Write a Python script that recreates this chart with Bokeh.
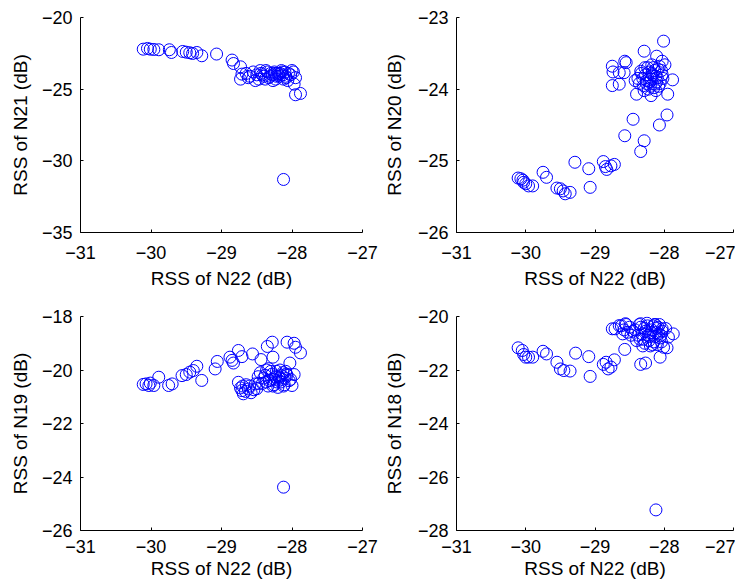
from bokeh.plotting import figure
from bokeh.layouts import column, row
from bokeh.models import FixedTicker, Range1d
from bokeh.embed import file_html
from bokeh.resources import INLINE

# ---------------- data ----------------
x_ticks = [-31, -30, -29, -28, -27]

# Panel 1: N22 vs N21
x_p1 = [-30.11, -30.05, -30.01, -29.96, -29.89, -29.74, -29.71, -29.55, -29.50, -29.45,
        -29.41, -29.35, -29.28, -29.07, -28.85, -28.83, -28.73, -28.71, -28.73, -27.95,
        -27.88, -27.97, -28.12,
        -28.65, -28.60, -28.55, -28.50, -28.47, -28.44, -28.40, -28.37, -28.33, -28.30,
        -28.28, -28.25, -28.23, -28.20, -28.18, -28.15, -28.13, -28.10, -28.08, -28.05,
        -28.02, -27.98, -27.95, -28.62, -28.52, -28.42, -28.35, -28.27, -28.22, -28.17,
        -28.12, -28.06, -28.00, -28.45, -28.38, -28.31, -28.24, -28.19, -28.14, -28.09]
y_p1 = [-22.21, -22.16, -22.21, -22.23, -22.25, -22.25, -22.44, -22.37, -22.42, -22.46,
        -22.51, -22.44, -22.67, -22.55, -22.97, -23.21, -23.44, -23.95, -24.30, -25.39,
        -25.30, -24.65, -31.30,
        -23.90, -24.10, -23.80, -24.00, -24.30, -23.90, -24.10, -23.70, -24.20, -23.90,
        -24.00, -23.80, -24.30, -23.90, -24.10, -23.70, -24.00, -23.80, -24.20, -23.90,
        -24.00, -23.80, -24.20, -24.20, -24.40, -24.00, -23.80, -24.40, -24.10, -23.90,
        -24.30, -24.40, -23.70, -23.70, -24.30, -24.10, -23.90, -24.00, -23.80, -24.10]

# Panel 2: N22 vs N20
x_p2 = [-30.11, -30.07, -30.04, -30.03, -30.00, -29.96, -29.90, -29.75, -29.70, -29.55,
        -29.50, -29.46, -29.43, -29.36, -29.29, -29.09, -29.07, -28.88, -28.85, -28.83,
        -28.77, -28.72, -28.57, -28.45, -28.34, -28.29, -28.07, -27.96,
        -28.75, -28.74, -28.75, -28.65, -28.57, -28.55, -28.58, -28.65, -28.29, -28.11,
        -28.01, -28.03, -27.99, -27.88, -27.95, -28.19, -28.40,
        -28.38, -28.34, -28.30, -28.27, -28.24, -28.21, -28.18, -28.15, -28.12, -28.09,
        -28.06, -28.03, -28.36, -28.31, -28.26, -28.22, -28.19, -28.16, -28.13, -28.10,
        -28.07, -28.33, -28.28, -28.25, -28.20, -28.17, -28.14, -28.11, -28.08, -28.04,
        -28.29, -28.23, -28.18, -28.12, -28.42, -28.02]
y_p2 = [-25.24, -25.25, -25.27, -25.30, -25.32, -25.35, -25.35, -25.16, -25.23, -25.38,
        -25.39, -25.42, -25.46, -25.44, -25.02, -25.11, -25.37, -25.01, -25.08, -25.12,
        -25.07, -25.05, -24.65, -24.42, -24.87, -24.72, -24.50, -24.36,
        -23.68, -23.76, -23.95, -23.93, -23.61, -23.63, -23.77, -23.77, -23.47, -23.54,
        -23.33, -23.61, -23.66, -23.87, -24.07, -24.09, -24.07,
        -23.85, -23.75, -23.95, -23.80, -23.70, -23.90, -23.78, -23.98, -23.82, -23.72,
        -23.92, -23.80, -23.92, -23.85, -23.92, -23.76, -23.86, -23.70, -23.93, -23.84,
        -23.68, -23.78, -23.70, -23.88, -23.96, -23.80, -23.74, -23.90, -23.96, -23.74,
        -24.02, -24.00, -23.66, -24.02, -23.88, -23.85]

# Panel 3: N22 vs N19
x_p3 = [-30.11, -30.07, -30.03, -30.01, -29.96, -29.89, -29.75, -29.70, -29.56, -29.50,
        -29.45, -29.40, -29.35, -29.28, -29.09, -29.06, -28.88, -28.85, -28.83, -28.76,
        -28.71, -28.56, -28.44, -28.35, -28.28, -28.27, -28.07, -27.97, -27.95, -27.88,
        -28.03, -28.76, -28.73, -28.69, -28.62, -28.54, -28.52, -28.71, -27.97, -28.00,
        -28.12,
        -28.66, -28.60, -28.58, -28.50, -28.47, -28.65, -28.70,
        -28.45, -28.40, -28.36, -28.32, -28.28, -28.25, -28.22, -28.19, -28.16, -28.13,
        -28.10, -28.07, -28.04, -28.42, -28.38, -28.34, -28.30, -28.26, -28.23, -28.20,
        -28.17, -28.14, -28.11, -28.08, -28.37, -28.29, -28.21, -28.15, -28.09, -28.33,
        -28.27, -28.18, -28.12, -28.48, -28.02]
y_p3 = [-20.54, -20.52, -20.58, -20.49, -20.58, -20.27, -20.58, -20.52, -20.21, -20.17,
        -20.08, -20.02, -19.86, -20.39, -19.96, -19.68, -19.52, -19.64, -19.74, -19.27,
        -19.50, -19.40, -19.61, -19.12, -18.96, -19.52, -18.96, -19.00, -19.15, -19.36,
        -19.74, -20.46, -20.67, -20.89, -20.71, -20.74, -20.52, -20.77, -20.17, -20.58,
        -24.38,
        -20.80, -20.60, -20.85, -20.70, -20.50, -20.55, -20.60,
        -20.10, -20.30, -20.00, -20.40, -20.15, -20.35, -20.05, -20.25, -20.45, -20.10,
        -20.30, -20.20, -20.40, -20.50, -20.20, -20.60, -20.05, -20.55, -20.25, -20.65,
        -20.00, -20.35, -20.55, -20.15, -20.45, -20.35, -20.45, -20.20, -20.05, -19.95,
        -20.60, -20.30, -20.60, -20.25, -20.35]

# Panel 4: N22 vs N18
x_p4 = [-30.11, -30.05, -30.03, -30.00, -29.96, -29.90, -29.75, -29.70, -29.55, -29.50,
        -29.45, -29.36, -29.28, -29.09, -29.07, -28.88, -28.84, -28.81, -28.77, -28.72,
        -28.57, -28.34, -28.27, -28.06, -27.96,
        -28.75, -28.71, -28.65, -28.56, -28.53, -28.60, -28.34, -28.13, -28.03, -27.87,
        -27.94, -28.01, -28.12,
        -28.62, -28.58, -28.50, -28.48, -28.55, -28.45,
        -28.42, -28.38, -28.34, -28.30, -28.27, -28.24, -28.21, -28.18, -28.15, -28.12,
        -28.09, -28.06, -28.03, -27.98, -28.40, -28.36, -28.32, -28.28, -28.25, -28.22,
        -28.19, -28.16, -28.13, -28.10, -28.07, -28.04, -28.35, -28.29, -28.23, -28.17,
        -28.11, -28.05, -28.31, -28.20, -28.14, -28.08]
y_p4 = [-21.17, -21.27, -21.42, -21.52, -21.52, -21.52, -21.30, -21.40, -21.71, -21.96,
        -22.02, -22.04, -21.37, -21.50, -22.24, -21.79, -21.71, -21.96, -21.89, -21.62,
        -21.23, -21.79, -21.74, -21.52, -21.17,
        -20.46, -20.46, -20.34, -20.27, -20.59, -20.65, -20.27, -20.30, -20.46, -20.65,
        -20.77, -21.15, -27.23,
        -20.35, -20.50, -20.40, -20.70, -20.30, -20.55,
        -20.50, -20.70, -20.40, -20.85, -20.55, -20.35, -20.75, -20.50, -20.95, -20.60,
        -20.40, -20.80, -20.55, -20.45, -20.90, -20.30, -20.65, -21.00, -20.25, -20.90,
        -20.60, -20.35, -20.75, -21.05, -20.30, -20.95, -20.85, -20.45, -20.70, -21.05,
        -20.45, -20.70, -21.10, -21.10, -20.30, -20.65]

x_label = "RSS of N22 (dB)"
y_labels = ["RSS of N21 (dB)", "RSS of N20 (dB)", "RSS of N19 (dB)", "RSS of N18 (dB)"]
y_ranges = [(-35, -20), (-26, -23), (-26, -18), (-28, -20)]
y_ticks = [[-35, -30, -25, -20], [-26, -25, -24, -23],
           [-26, -24, -22, -20, -18], [-28, -26, -24, -22, -20]]

FONT = "Liberation Sans"
TICK_FS = "18px"
LABEL_FS = "19px"


def minus(v):
    return ("\u2212%d" % abs(v)) if v < 0 else "%d" % v


def panel(xs, ys, ylab, yr, yt, w, h, bl, br, bt, bb, xms, xas, yas):
    p = figure(width=w, height=h, output_backend="svg", toolbar_location=None,
               x_range=Range1d(-31, -27), y_range=Range1d(*yr),
               min_border_left=bl, min_border_right=br,
               min_border_top=bt, min_border_bottom=bb)
    p.scatter(xs, ys, marker="circle", size=12, fill_color=None,
              line_color="#0000ff", line_width=1)
    p.xgrid.visible = False
    p.ygrid.visible = False
    p.outline_line_color = None
    p.background_fill_color = "white"
    p.border_fill_color = "white"
    p.xaxis.ticker = FixedTicker(ticks=x_ticks)
    p.yaxis.ticker = FixedTicker(ticks=yt)
    p.xaxis.major_label_overrides = {t: minus(t) for t in x_ticks}
    p.yaxis.major_label_overrides = {t: minus(t) for t in yt}
    p.xaxis.axis_label = x_label
    p.yaxis.axis_label = ylab
    for ax in (p.xaxis, p.yaxis):
        ax.axis_label_text_font = FONT
        ax.axis_label_text_font_size = LABEL_FS
        ax.axis_label_text_font_style = "normal"
        ax.axis_label_text_color = "black"
        ax.major_label_text_font = FONT
        ax.major_label_text_font_size = TICK_FS
        ax.major_label_text_color = "black"
        ax.major_tick_in = 3
        ax.major_tick_out = 0
        ax.minor_tick_line_color = None
        ax.axis_line_color = "black"
        ax.major_tick_line_color = "black"
    p.xaxis.major_label_standoff = xms
    p.xaxis.axis_label_standoff = xas
    p.yaxis.major_label_standoff = 8
    p.yaxis.axis_label_standoff = yas
    return p


# page has no margin: first column/row include the 8px offset
p1 = panel(x_p1, y_p1, y_labels[0], y_ranges[0], y_ticks[0], 380, 298, 80, 18, 17, 66, 13, 6, 8)
p2 = panel(x_p2, y_p2, y_labels[1], y_ranges[1], y_ticks[1], 355, 298, 72, 2, 17, 66, 13, 6, 10)
p3 = panel(x_p3, y_p3, y_labels[2], y_ranges[2], y_ticks[2], 380, 286, 80, 18, 18, 54, 9, 2, 8)
p4 = panel(x_p4, y_p4, y_labels[3], y_ranges[3], y_ticks[3], 355, 286, 72, 2, 18, 54, 9, 2, 10)

layout = column(row(p1, p2), row(p3, p4))
open("out.html", "w").write(file_html(layout, INLINE))
